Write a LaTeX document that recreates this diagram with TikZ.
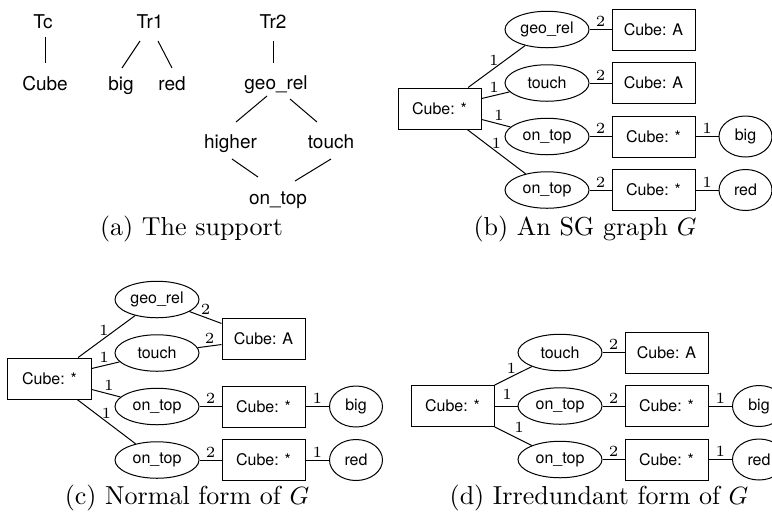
\documentclass[tikz,border=0pt]{standalone}
\usepackage{fontspec}
\newfontfamily\hv{TeX Gyre Heros}
\usetikzlibrary{shapes.geometric,calc}
\tikzset{
  rel/.style={draw, ellipse, minimum width=33.6pt, minimum height=14.6pt, inner sep=0pt, font=\hv\fontsize{6.4}{7.7}\selectfont},
  con/.style={draw, rectangle, minimum width=33.2pt, minimum height=16.4pt, inner sep=0pt, font=\hv\fontsize{6.4}{7.7}\selectfont},
  prop/.style={draw, ellipse, minimum width=21.2pt, minimum height=16.4pt, inner sep=0pt, font=\hv\fontsize{6.4}{7.7}\selectfont},
  sup/.style={font=\hv\fontsize{7.6}{9}\selectfont, anchor=base, inner sep=0pt},
  lab/.style={font=\fontsize{6.2}{7}\selectfont, inner sep=1pt},
  capt/.style={font=\fontsize{10.4}{12}\selectfont, anchor=base, inner sep=0pt},
}
\begin{document}
\begin{tikzpicture}[x=0.4pt, y=-0.4pt, line width=0.4pt]
\useasboundingbox (0,0) rectangle (772,515);
% ---------- (a) the support
\node[sup] (Tc) at (43,28) {Tc};
\node[sup] (aCube) at (45,90) {Cube};
\node[sup] (Tr1) at (150,28) {Tr1};
\node[sup] (abig) at (121,90) {big};
\node[sup] (ared) at (172,90) {red};
\node[sup] (Tr2) at (273,28) {Tr2};
\node[sup] (ageo) at (276,89) {geo\_rel};
\node[sup] (ahigher) at (230.5,148) {higher};
\node[sup] (atouch) at (331,148) {touch};
\node[sup] (aontop) at (278,204) {on\_top};
\draw ($(Tc.base)+(2,9)$) -- ($(aCube.base)+(0,-27)$);
\draw ($(Tr1.base)+(-10,13)$) -- ($(abig.base)+(1,-22)$);
\draw ($(Tr1.base)+(8,13)$) -- ($(ared.base)+(0,-22)$);
\draw ($(Tr2.base)+(0,13)$) -- ($(ageo.base)+(-3,-26)$);
\draw ($(ageo.base)+(-9,7)$) -- ($(ahigher.base)+(5.5,-26)$);
\draw ($(ageo.base)+(14,10)$) -- ($(atouch.base)+(-14,-26)$);
\draw ($(ahigher.base)+(1.5,11)$) -- ($(aontop.base)+(-20,-27)$);
\draw ($(atouch.base)+(0,11)$) -- ($(aontop.base)+(17,-23)$);
\node[capt] (capa) at (191.5,235) {(a) The support};
% ---------- (b) an SG graph
\node[con] (bX) at (439.5,108.5) {Cube: *};
\node[rel] (bgeo) at (547,29.5) {geo\_rel};
\node[rel] (btouch) at (547,83) {touch};
\node[rel] (bon1) at (547,136.5) {on\_top};
\node[rel] (bon2) at (547,190) {on\_top};
\node[con] (bA1) at (653.5,29.5) {Cube: A};
\node[con] (bA2) at (653.5,83) {Cube: A};
\node[con] (bS1) at (653.5,136.5) {Cube: *};
\node[con] (bS2) at (653.5,190) {Cube: *};
\node[prop] (bbig) at (745.5,136.5) {big};
\node[prop] (bred) at (745.5,190) {red};
\draw (bX) -- node[lab,pos=.45,above]{1} (bgeo);
\draw (bX) -- node[lab,pos=.45,above]{1} (btouch);
\draw (bX) -- node[lab,pos=.6,above]{1} (bon1);
\draw (bX) -- node[lab,pos=.5,above]{1} (bon2);
\draw (bgeo) -- node[lab,above]{2} (bA1);
\draw (btouch) -- node[lab,above]{2} (bA2);
\draw (bon1) -- node[lab,above]{2} (bS1);
\draw (bon2) -- node[lab,above]{2} (bS2);
\draw (bS1) -- node[lab,above]{1} (bbig);
\draw (bS2) -- node[lab,above]{1} (bred);
\node[capt] (capb) at (585,235) {(b) An SG graph $G$};
% ---------- (c) normal form
\node[con] (cX) at (49.5,378.5) {Cube: *};
\node[rel] (cgeo) at (157,299.5) {geo\_rel};
\node[rel] (ctouch) at (157,353) {touch};
\node[rel] (con1) at (157,406.5) {on\_top};
\node[rel] (con2) at (157,460) {on\_top};
\node[con] (cA) at (263.5,339) {Cube: A};
\node[con] (cS1) at (263.5,406.5) {Cube: *};
\node[con] (cS2) at (263.5,460) {Cube: *};
\node[prop] (cbig) at (356,406.5) {big};
\node[prop] (cred) at (356,460) {red};
\draw (cX) -- node[lab,pos=.45,above]{1} (cgeo);
\draw (cX) -- node[lab,pos=.45,above]{1} (ctouch);
\draw (cX) -- node[lab,pos=.6,above]{1} (con1);
\draw (cX) -- node[lab,pos=.5,above]{1} (con2);
\draw (cgeo) -- node[lab,above]{2} (cA);
\draw (ctouch) -- node[lab,above]{2} (cA);
\draw (con1) -- node[lab,above]{2} (cS1);
\draw (con2) -- node[lab,above]{2} (cS2);
\draw (cS1) -- node[lab,above]{1} (cbig);
\draw (cS2) -- node[lab,above]{1} (cred);
\node[capt] (capc) at (187,504) {(c) Normal form of $G$};
% ---------- (d) irredundant form
\node[con] (dX) at (452.5,406) {Cube: *};
\node[rel] (dtouch) at (560,352.5) {touch};
\node[rel] (don1) at (560,406) {on\_top};
\node[rel] (don2) at (560,459.5) {on\_top};
\node[con] (dA) at (666.5,352.5) {Cube: A};
\node[con] (dS1) at (666.5,406) {Cube: *};
\node[con] (dS2) at (666.5,459.5) {Cube: *};
\node[prop] (dbig) at (759,406) {big};
\node[prop] (dred) at (759,459.5) {red};
\draw (dX) -- node[lab,pos=.45,above]{1} (dtouch);
\draw (dX) -- node[lab,pos=.55,above=1.5pt]{1} (don1);
\draw (dX) -- node[lab,pos=.45,above right]{1} (don2);
\draw (dtouch) -- node[lab,above]{2} (dA);
\draw (don1) -- node[lab,above]{2} (dS1);
\draw (don2) -- node[lab,above]{2} (dS2);
\draw (dS1) -- node[lab,above]{1} (dbig);
\draw (dS2) -- node[lab,above]{1} (dred);
\node[capt] (capd) at (599,504) {(d) Irredundant form of $G$};
\end{tikzpicture}
\end{document}
